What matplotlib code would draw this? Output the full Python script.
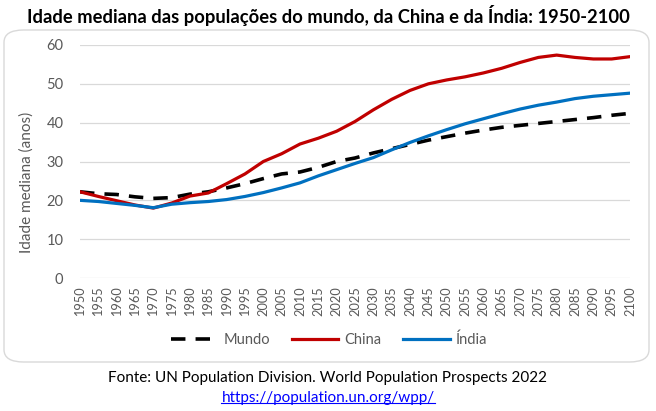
import matplotlib
matplotlib.use("Agg")
import matplotlib.pyplot as plt
from matplotlib.patches import FancyBboxPatch
from matplotlib.lines import Line2D

plt.rcParams['font.family'] = ['Lato', 'DejaVu Sans']

years = list(range(1950, 2101, 5))
mundo = [22.2, 21.7, 21.5, 20.9, 20.5, 20.7, 21.6, 22.2, 23.2, 24.3, 25.6, 26.8, 27.3,
         28.5, 30.0, 30.9, 32.2, 33.3, 34.4, 35.5, 36.4, 37.3, 38.1, 38.8, 39.3, 39.8,
         40.3, 40.8, 41.3, 41.9, 42.4]
china = [22.2, 21.0, 19.9, 18.8, 18.0, 19.3, 21.1, 21.9, 24.3, 26.8, 30.0, 32.0, 34.5,
         36.0, 37.8, 40.3, 43.3, 46.0, 48.3, 50.0, 51.0, 51.8, 52.8, 54.0, 55.5, 56.8,
         57.4, 56.8, 56.4, 56.4, 57.0]
india = [20.0, 19.7, 19.2, 18.7, 18.1, 19.0, 19.4, 19.7, 20.2, 21.0, 22.0, 23.2, 24.5,
         26.3, 27.9, 29.5, 31.0, 33.0, 34.9, 36.6, 38.2, 39.7, 41.0, 42.3, 43.5, 44.5,
         45.3, 46.2, 46.8, 47.2, 47.6]
yticks = [0, 10, 20, 30, 40, 50, 60]

W, H = 656, 411
fig = plt.figure(figsize=(W / 100, H / 100), dpi=100)

# chart border
border = FancyBboxPatch((4 / W, 1 - 362 / H), (649 - 4) / W, (362 - 30) / H,
                        boxstyle="round,pad=0,rounding_size=0.03",
                        transform=fig.transFigure, facecolor='none',
                        edgecolor='#D9D9D9', linewidth=1.0, zorder=-5)
fig.patches.append(border)

ax = fig.add_axes([80 / W, 1 - 278 / H, (630 - 80) / W, (278 - 45) / H])
ax.set_zorder(2)
ax.set_facecolor('none')
ax.plot(years, mundo, color='black', lw=2.6, dashes=(4, 2.8), label='Mundo')
ax.plot(years, china, color='#C00000', lw=2.3, label='China')
ax.plot(years, india, color='#0070C0', lw=2.3, label='Índia')

ax.set_xlim(1950, 2100)
ax.set_ylim(0, 60)
ax.set_yticks(yticks)
ax.set_xticks(years)
ax.set_xticklabels([str(y) for y in years], rotation=90)
ax.grid(axis='y', color='#D9D9D9', lw=0.9)
ax.set_axisbelow(True)
for s in ax.spines.values():
    s.set_visible(False)
ax.tick_params(axis='both', length=0, colors='#595959')
ax.tick_params(axis='y', labelsize=10.5, pad=12)
ax.tick_params(axis='x', labelsize=9.2, pad=6)
ax.set_ylabel('Idade mediana (anos)', fontsize=11, color='#595959')
ax.yaxis.set_label_coords((27 - 80) / (630 - 80), (278 - 182.5) / (278 - 45))
ax.yaxis.label.set_va('center')

fig.text(0.5, 1 - 15 / H, 'Idade mediana das populações do mundo, da China e da Índia: 1950-2100',
         ha='center', va='center', fontsize=13.2, fontweight='bold', color='black')

handles, labels = ax.get_legend_handles_labels()
fig.legend(handles, labels, loc='center', bbox_to_anchor=(329 / W, 1 - 340 / H), ncol=3,
           frameon=False, fontsize=10.5, labelcolor='#595959', handlelength=3.2,
           handletextpad=0.4, columnspacing=1.5)

fig.text(0.5, 1 - 378 / H, 'Fonte: UN Population Division. World Population Prospects 2022',
         ha='center', va='center', fontsize=11, color='black')
link = fig.text(0.5, 1 - 398 / H, 'https://population.un.org/wpp/',
                ha='center', va='center', fontsize=11, color='#0000FF')
fig.canvas.draw()
bb = link.get_window_extent().transformed(fig.transFigure.inverted())
uy = bb.y0 + 0.004
fig.add_artist(Line2D([bb.x0, bb.x1], [uy, uy], transform=fig.transFigure,
                      color='#0000FF', lw=0.8))

fig.savefig('out.png', dpi=100)
